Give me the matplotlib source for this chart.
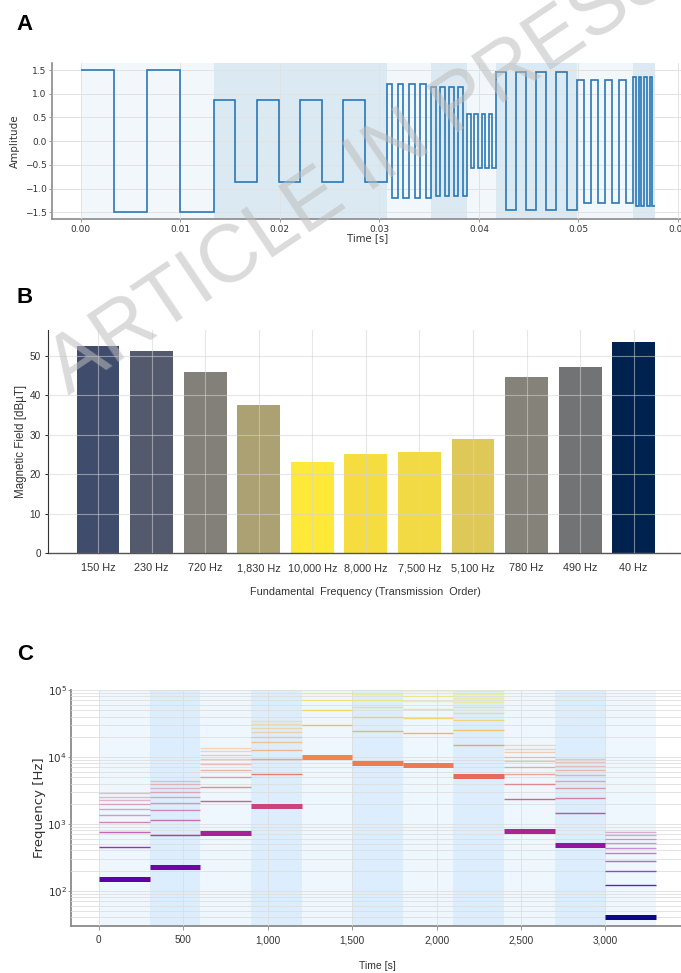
import numpy as np
import matplotlib
matplotlib.use("Agg")
import matplotlib.pyplot as plt
from matplotlib.colors import LogNorm
from matplotlib.ticker import FuncFormatter, MultipleLocator, FixedLocator, LogLocator

# ---------------- Panel A: square-wave transmission ----------------
seg_period_ms = [6.67, 4.35, 1.12, 0.90, 0.72, 2.03, 1.42, 0.55]
seg_cycles = [2, 4, 4, 4, 4, 4, 4, 4]
seg_amp = [1.50, 0.87, 1.20, 1.15, 0.57, 1.46, 1.30, 1.36]

# ---------------- Panel B: measured field per tone ----------------
freq_labels = ["150 Hz", "230 Hz", "720 Hz", "1,830 Hz", "10,000 Hz", "8,000 Hz",
               "7,500 Hz", "5,100 Hz", "780 Hz", "490 Hz", "40 Hz"]
fundamental_hz = [150, 230, 720, 1830, 10000, 8000, 7500, 5100, 780, 490, 40]
field_dbut = [52.5, 51.3, 45.9, 37.5, 23.1, 25.1, 25.7, 29.0, 44.8, 47.1, 53.6]

# ---------------- Panel C: spectrogram-like schedule ----------------
slot_s = 300
harmonic_orders = [3, 5, 7, 9, 11, 13, 15, 17, 19]

W, H = 681, 973
fig = plt.figure(figsize=(W / 100, H / 100), dpi=100)


def rect(l, t, r, b):
    return [l / W, 1 - b / H, (r - l) / W, (b - t) / H]


# ================= Panel A =================
axA = fig.add_axes(rect(52, 62.7, 684, 219))
edges = [0.0]
vals = []
seg_edges = [0.0]
for T, n, a in zip(seg_period_ms, seg_cycles, seg_amp):
    half = T / 1000.0 / 2.0
    for k in range(2 * n):
        vals.append(a if k % 2 == 0 else -a)
        edges.append(edges[-1] + half)
    seg_edges.append(edges[-1])

for i in range(len(seg_edges) - 1):
    axA.axvspan(seg_edges[i], seg_edges[i + 1], color="#1f77b4",
                alpha=0.06 if i % 2 == 0 else 0.16, lw=0, zorder=1)
axA.stairs(vals, edges, baseline=None, color="#2a78b5", lw=1.2, zorder=3)
axA.set_xlim(-0.00289, 0.0606)
axA.set_ylim(-1.64, 1.655)
axA.xaxis.set_major_locator(MultipleLocator(0.01))
axA.yaxis.set_major_locator(FixedLocator([-1.5, -1.0, -0.5, 0.0, 0.5, 1.0, 1.5]))
axA.xaxis.set_major_formatter(FuncFormatter(lambda v, p: f"{v:.2f}"))
axA.yaxis.set_major_formatter(FuncFormatter(lambda v, p: f"{v:.1f}".replace("-", "\u2212")))
axA.set_axisbelow(False)
axA.grid(True, color="#e2e2e2", lw=0.7, zorder=2)
for s in ["top", "right"]:
    axA.spines[s].set_visible(False)
for s in ["left", "bottom"]:
    axA.spines[s].set_color("#8a8a8a")
    axA.spines[s].set_linewidth(1.2)
axA.tick_params(axis="both", length=2, width=0.6, color="#8a8a8a", labelsize=6.5,
                labelcolor="#333333", pad=2)
axA.set_xlabel("Time [s]", fontsize=7.3, color="#333333", labelpad=0)
axA.set_ylabel("Amplitude", fontsize=7.5, color="#333333", labelpad=3)

# ================= Panel B =================
axB = fig.add_axes(rect(47.7, 330, 684, 553.3))
normB = LogNorm(vmin=min(fundamental_hz), vmax=max(fundamental_hz))
colorsB = [plt.cm.cividis(normB(f)) for f in fundamental_hz]
xB = np.arange(len(freq_labels))
axB.bar(xB, field_dbut, width=0.8, color=colorsB, zorder=2)
axB.set_xlim(-0.94, 10.94)
axB.set_ylim(0, 56.6)
axB.set_xticks(xB)
axB.set_xticklabels(freq_labels, family="Liberation Sans")
axB.yaxis.set_major_locator(MultipleLocator(10))
for lab in axB.get_yticklabels():
    lab.set_family("Liberation Sans")
axB.set_axisbelow(False)
axB.grid(True, color="#d4d4d4", lw=0.8, alpha=0.55, zorder=2.5)
for s in ["top", "right"]:
    axB.spines[s].set_visible(False)
axB.spines["left"].set_color("#333333")
axB.spines["left"].set_linewidth(0.8)
axB.spines["bottom"].set_color("#555555")
axB.spines["bottom"].set_linewidth(1.0)
axB.tick_params(axis="x", length=0, labelsize=7.8, labelcolor="#333333", pad=7)
axB.tick_params(axis="y", length=2, width=0.6, labelsize=7.2, labelcolor="#333333", pad=3)
axB.set_xlabel("Fundamental  Frequency (Transmission  Order)", fontsize=7.8,
               color="#333333", family="Liberation Sans", labelpad=10)
axB.set_ylabel("Magnetic Field [dB\u00b5T]", fontsize=8.3, color="#333333",
               family="Liberation Sans", labelpad=2)

# ================= Panel C =================
axC = fig.add_axes(rect(71, 690, 684, 925.7))
axC.set_yscale("log")
normC = LogNorm(vmin=40, vmax=1e5)
cmapC = plt.cm.plasma
for i, f in enumerate(fundamental_hz):
    t0 = i * slot_s
    t1 = t0 + slot_s
    axC.axvspan(t0, t1, color="#2196f3", alpha=0.075 if i % 2 == 0 else 0.155,
                lw=0, zorder=1)
    for n in harmonic_orders:
        h = n * f
        if h < 1e5:
            axC.hlines(h, t0, t1, color=cmapC(normC(h)), lw=1.0,
                       alpha=min(0.9, 1.5 / np.sqrt(n)), zorder=3)
    axC.hlines(f, t0, t1, color=cmapC(normC(f)), lw=3.6, zorder=4)

axC.set_xlim(-165, 3465)
axC.set_ylim(30, 1e5)
axC.xaxis.set_major_locator(MultipleLocator(500))
axC.xaxis.set_major_formatter(FuncFormatter(lambda v, p: f"{int(round(v)):,}"))
axC.yaxis.set_major_locator(LogLocator(base=10))
axC.yaxis.set_minor_locator(LogLocator(base=10, subs=np.arange(2, 10)))
for lab in axC.get_xticklabels():
    lab.set_family("Liberation Sans")
axC.set_axisbelow(False)
axC.grid(True, which="both", axis="y", color="#dedede", lw=0.6, zorder=2)
axC.grid(True, which="major", axis="x", color="#dedede", lw=0.6, zorder=2)
for s in ["top", "right"]:
    axC.spines[s].set_visible(False)
for s in ["left", "bottom"]:
    axC.spines[s].set_color("#8a8a8a")
    axC.spines[s].set_linewidth(1.3)
axC.tick_params(axis="x", length=3, width=0.6, color="#8a8a8a", labelsize=7.2,
                labelcolor="#333333", pad=4)
axC.tick_params(axis="y", which="major", length=2, width=0.6, color="#8a8a8a",
                labelsize=7.5, labelcolor="#333333", pad=1)
axC.tick_params(axis="y", which="minor", length=0)
axC.set_xlabel("Time [s]", fontsize=7.5, color="#333333", family="Liberation Sans",
               labelpad=11)
axC.set_ylabel("Frequency [Hz]", fontsize=9.5, color="#333333", labelpad=1)

# ================= Panel letters =================
for letter, (px, py) in zip(["A", "B", "C"], [(16, 25), (16, 297), (17, 655)]):
    fig.text(px / W, 1 - py / H, letter, fontsize=16, fontweight="bold",
             family="Liberation Sans", ha="left", va="center", color="black")

# ================= Watermark =================
fig.text(362 / W, 1 - 172 / H, "ARTICLE IN PRESS", rotation=34, fontsize=58,
         color="#bdbdbd", alpha=0.55, ha="center", va="center",
         family="Liberation Sans", zorder=100)

fig.savefig("out.png", dpi=100)
